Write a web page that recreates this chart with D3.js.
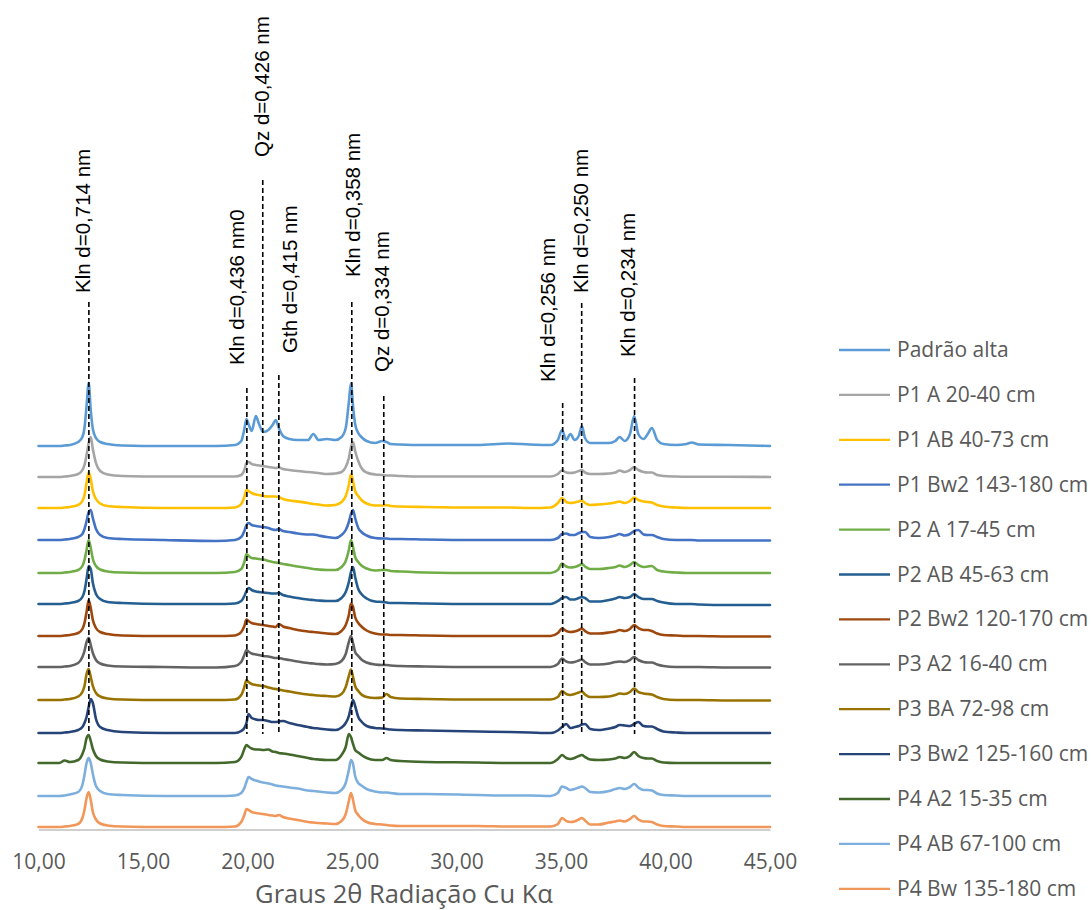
<!DOCTYPE html>
<html>
<head>
<meta charset="utf-8">
<script src="https://cdn.jsdelivr.net/npm/d3@7"></script>
<style>
  body { margin: 0; background: #fff; }
  svg { display: block; }
</style>
</head>
<body>
<svg id="chart" width="1091" height="910"></svg>
<script>
// 2θ sampling grid (degrees), shared by all diffractograms
const twoTheta = [
  10.0, 11.0, 11.25, 11.5, 11.9, 12.1, 12.2, 12.3, 12.4, 12.5, 12.6, 12.75, 12.95, 13.3,
  14.0, 16.0, 18.5, 19.4, 19.7, 19.85,
  19.95, 20.05, 20.2, 20.4, 20.55, 20.75, 21.0, 21.2, 21.35, 21.5, 21.7, 22.0,
  22.4, 22.9, 23.15, 23.4, 23.8, 24.2,
  24.5, 24.7, 24.85, 24.95, 25.05, 25.15, 25.3, 25.45, 25.7,
  26.1, 26.45, 26.65, 26.85, 27.3, 28.5, 31.0, 32.5, 33.5, 34.5,
  34.85, 35.05, 35.25, 35.45, 35.65, 35.85, 36.0, 36.15, 36.4, 36.8,
  37.3, 37.6, 37.8, 38.05, 38.3, 38.5, 38.7, 38.95, 39.15, 39.35, 39.6, 39.9,
  40.5, 41.0, 41.25, 41.6, 43.0, 45.0
];

const sampleNames = [
  "Padrão alta", "P1 A 20-40 cm", "P1 AB 40-73 cm", "P1 Bw2 143-180 cm",
  "P2 A 17-45 cm", "P2 AB 45-63 cm", "P2 Bw2 120-170 cm", "P3 A2 16-40 cm",
  "P3 BA 72-98 cm", "P3 Bw2 125-160 cm", "P4 A2 15-35 cm", "P4 AB 67-100 cm",
  "P4 Bw 135-180 cm"
];

// vertical offset of each pattern in the stack (intensity units)
const stackOffsets = [383, 352, 321, 289, 256, 225, 193, 162, 129, 96, 66, 33, 2];

// intensity above each pattern's own baseline (u.a.), one value per 2θ point
const padraoAlta = [
  0, 0, 0.5, 1, 4, 9, 18, 40, 63, 36, 17, 8, 4, 2,
  0.5, 0, 0, 1, 5, 17,
  27, 22, 15, 30, 22, 14, 16, 21, 26, 18, 10, 7,
  6, 6, 12, 6, 7, 6,
  9, 18, 44, 63, 40, 22, 13, 9, 5,
  3, 5, 4, 2, 1.5, 1, 1, 2.5, 1.5, 1,
  6, 16, 6, 12, 6, 10, 20, 8, 3, 3,
  3, 5, 9, 5, 12, 30, 12, 7, 12, 18, 6, 2,
  1, 2, 3.5, 1.5, 1, 0
];
const p1A = [
  0, 0, 0.5, 1, 3, 7, 12, 22, 34, 40, 28, 14, 6, 2.5,
  1, 0.5, 0.5, 0.5, 2, 7,
  14, 15, 13, 12, 11.5, 11, 10, 9.5, 9, 9.5, 8, 7,
  6, 5, 4.5, 4, 3, 3.5,
  5, 10, 19, 30, 35, 26, 16, 9, 4.5,
  2.5, 2, 1.5, 1.5, 1, 0.5, 0.5, 0.5, 0.5, 0.5,
  3, 6.5, 4.5, 4, 4.5, 6, 7, 4.5, 3, 3,
  3.5, 4.5, 6.5, 5, 7, 10, 7, 5, 4.5, 4.5, 2, 1,
  0.5, 0.3, 0.3, 0.3, 0.3, 0
];
const p1AB = [
  0, 0, 0.5, 1, 3, 7, 13, 25, 36, 29, 17, 9, 4.5, 2,
  1, 0, 0, 0.5, 4, 11,
  18, 17, 15, 13.5, 13, 12, 11.5, 11.5, 11.5, 11, 9, 7.5,
  6.5, 5, 4, 3.5, 2.5, 3,
  6, 12, 23, 34, 27, 17, 12, 8, 4.5,
  2.5, 2.5, 3, 2, 1.5, 1, 0.5, 0.5, 0, 0.5,
  5, 10, 6, 5, 5.5, 6.5, 7.5, 5, 3, 3.5,
  4.5, 5.5, 6.5, 5, 7, 10.5, 8, 6.5, 6, 5.5, 3, 1.5,
  0.5, 0, 0, 0, 0, 0
];
const p1Bw2 = [
  0, 0, 0.5, 1, 3, 6, 11, 19, 28, 30, 22, 11, 5, 2,
  1, 0, -1, 0, 3, 9,
  15, 17, 15, 14, 13.5, 13, 12, 10.5, 10, 11, 9, 8,
  6.5, 5.5, 5.5, 4.5, 3, 2,
  5, 10, 18, 26, 30, 22, 12, 8, 4.5,
  2, 1.5, 1.5, 1, 1, 0.5, 0, 0, 0, 0,
  2, 6, 6.5, 5, 5, 7, 8, 8, 3, 2,
  3, 4.5, 6, 4.5, 6, 9, 10, 5.5, 5, 5, 3, 1,
  0, 0, 0, -0.5, -0.5, -0.5
];
const p2A = [
  0, 0, 0.5, 1, 3, 7, 13, 23, 33, 25, 14, 7, 3.5, 1.5,
  0.5, 0, 0, 1, 4, 11,
  19, 17, 15, 14.5, 14, 13.5, 12, 11, 10.5, 10, 9, 8,
  6.5, 5, 4, 3.5, 3, 3,
  6, 12, 23, 33, 26, 16, 11, 7.5, 4.5,
  2.5, 3, 3, 2, 1.5, 0.5, 0, 0, 0, 0,
  3, 9.5, 6.5, 5.5, 6, 7.5, 9, 6.5, 4, 4,
  5, 6, 7.5, 6, 8, 11, 8, 6, 6.5, 7, 3, 1.5,
  0.5, 0, 0, 0, 0, 0
];
const p2AB = [
  0, 0, 0.5, 1, 3, 7, 13, 25, 38, 35, 21, 10, 5, 2,
  1, 0, 0, 0.5, 3, 8,
  13, 16, 14, 12.5, 12, 11.5, 11, 10.5, 10.5, 11, 9, 7.5,
  6, 4.5, 4, 3.5, 3, 3,
  6, 12, 22, 32, 37, 27, 15, 10, 5.5,
  2.5, 2, 1.5, 1, 1, 0.5, 0, 0, 0, 0,
  3, 6, 7, 4.5, 4.5, 6, 7, 6, 2.5, 2.5,
  4, 5.5, 7, 6, 7, 10, 7, 5, 5, 5, 3, 1.5,
  0, 0, 0, -0.5, -1, -1
];
const p2Bw2 = [
  0, 0, 0.5, 1, 3, 7, 13, 24, 36, 28, 16, 8, 4, 2,
  0.5, 0, 0, 0.5, 4, 10,
  16.5, 15, 13, 12, 11.5, 11, 10, 9.5, 9, 12, 9.5, 8,
  6, 4.5, 4, 3.5, 2.5, 2,
  5, 11, 21, 32.5, 29, 19, 13, 9.5, 5.5,
  2.5, 1.5, 1.5, 1, 1, 0.5, 0, 0, 0, 0,
  3, 7.5, 5, 4, 4.5, 6, 7.5, 5, 2.5, 2.5,
  3.5, 4.5, 6, 5, 7, 11, 8, 6, 6, 5, 2.5, 1,
  0.5, 0, 0, 0, -0.5, -0.5
];
const p3A2 = [
  0, 0, 0.5, 1, 4, 10, 16, 25, 29, 22, 14, 7, 3.5, 1.5,
  0.5, 0, -0.5, 1, 5, 12,
  17, 15.5, 13.5, 12.5, 12, 11, 10.5, 9.5, 9, 9, 8, 7,
  5.5, 4, 3.5, 3, 2.5, 3,
  6, 13, 25, 31, 24, 15, 11, 7.5, 4.5,
  2.5, 2, 2, 1.5, 1, 0.5, 0, 0, 0, 0,
  3, 8.5, 5.5, 4.5, 5, 6.5, 7.5, 5, 2.5, 2.5,
  3.5, 5, 5.5, 5, 7, 10, 7, 5, 4.5, 4.5, 2.5, 1,
  0, 0, 0, 0, -0.5, -0.5
];
const p3BA = [
  0, 0, 0.5, 1, 3.5, 8, 14, 26, 31, 23, 14, 7, 3.5, 1.5,
  0.5, 0, 0, 0.5, 5, 13,
  20, 18, 16, 15, 14.5, 14, 12.5, 11.5, 11, 10.5, 9.5, 8.5,
  7, 5.5, 5, 4.5, 4, 3.5,
  6, 13, 24, 30.5, 23, 14, 9, 5.5, 3,
  2, 2.5, 6, 3, 1.5, 1, 0.5, 0.5, 0.5, 0.5,
  3, 9, 6, 5, 6, 7.5, 8.5, 5.5, 3, 3,
  3.5, 5, 6.5, 6, 8, 11.5, 8, 6.5, 6, 5.5, 3, 1,
  0, 0, 0, 0, -0.5, -0.5
];
const p3Bw2 = [
  0, 0, 0.5, 1, 3, 6, 10, 16, 26, 34, 30, 14, 6, 3,
  1, 0, 0, 0, 2, 5,
  10, 19, 15, 13.5, 13, 13, 12, 11, 11, 11.5, 12, 10,
  8, 6, 5, 4.5, 3.5, 3,
  5.5, 10, 17, 26, 33, 27, 16, 11.5, 7,
  5, 4.5, 4, 3.5, 3, 2.5, 1.5, 1, 0.5, 0,
  2.5, 6, 9, 5, 6, 7, 8.5, 9, 4, 3,
  4.5, 6, 8, 7.5, 7, 9, 11, 7, 6.5, 6.5, 4, 1.5,
  0.5, 0, 0, 0, 0, 0
];
const p4A2 = [
  0, 0, 2.5, 1, 3, 9, 15, 25, 28, 22, 14, 7, 3.5, 1.5,
  0.5, 0, 0, 1, 6, 14,
  18, 16.5, 14.5, 13.5, 13.5, 13, 13.5, 11.5, 11, 10, 9.5, 8.5,
  7, 5, 4, 3.5, 3, 3,
  8, 16, 29, 26, 19, 13, 10.5, 8, 5,
  3, 3, 5, 3, 2, 1, 0.5, 0, 0, 0,
  4, 8, 5, 4, 5, 7, 8, 6, 3.5, 3,
  3.5, 4.5, 6, 5, 7, 11, 7, 5, 4.5, 4.5, 2, 0.5,
  0, 0, 0, 0, 0, 0
];
const p4AB = [
  0, 0, 0.5, 1.5, 4, 11, 21, 33, 38, 33, 22, 10, 5, 2,
  1, 0, 0, 0.5, 3, 8,
  14, 19, 17, 15.5, 14.5, 13.5, 12.5, 11.5, 10.5, 10, 9.5, 8.5,
  7.5, 5.5, 5, 4.5, 3.5, 3,
  6, 13, 26, 36, 32, 20, 13, 10.5, 7,
  4.5, 3.5, 3.5, 3, 2, 2, 1, 0.5, 0.5, 0,
  3, 9.5, 8, 6, 7, 8.5, 9.5, 8, 4, 3.5,
  5, 7, 8, 7, 9, 12, 8.5, 6, 6, 5.5, 2.5, 1,
  0.5, 0, 0, 0, 0, 0
];
const p4Bw = [
  0, 0, 0.5, 1, 3, 9, 17, 29, 35, 27, 15, 7.5, 3.5, 1.5,
  0.5, 0, 0, 0.5, 5, 12,
  18, 17, 15, 14, 13.5, 13, 12, 11.5, 11, 12, 10, 8.5,
  7, 5, 4.5, 4, 3.5, 3,
  6, 13, 26, 34, 27, 17, 12, 8.5, 5,
  3, 2.5, 2, 1.5, 1, 1, 1, 0.5, 0.5, 0.5,
  3, 9, 6, 5, 5.5, 7.5, 9, 6.5, 2.5, 2.5,
  4.5, 5.5, 6.5, 5.5, 8, 11, 7.5, 5.5, 5.5, 5, 2.5, 1,
  0.5, 0, 0, 0, 0, 0
];

const patterns = [padraoAlta, p1A, p1AB, p1Bw2, p2A, p2AB, p2Bw2,
                  p3A2, p3BA, p3Bw2, p4A2, p4AB, p4Bw];

const xTicks = [10, 15, 20, 25, 30, 35, 40, 45];

// reference reflections marked with dashed lines
const peakLabels = [
  "Kln d=0,714 nm", "Kln d=0,436 nm0", "Qz d=0,426 nm", "Gth d=0,415 nm",
  "Kln d=0,358 nm", "Qz d=0,334 nm", "Kln d=0,256 nm", "Kln d=0,250 nm",
  "Kln d=0,234 nm"
];
const peakTwoTheta = [12.41, 19.97, 20.73, 21.50, 24.99, 26.52, 35.08, 35.99, 38.52];

// ---- styling / layout ----
const colors = ["#5B9BD5", "#A5A5A5", "#FFC000", "#4472C4", "#70AD47", "#255E91",
                "#9E480E", "#636363", "#997300", "#264478", "#43682B", "#7CAFDD", "#F1975A"];
const labelShift  = [-6, -10, -1, 11, 1, -2, -15, -1, -7];
const labelBottom = [293, 365, 157, 353, 277, 372, 382, 293, 357];
const lineTop     = [302, 388, 180, 375, 302, 396, 403, 303, 378];
const lineBottom  = 734;

patterns.forEach((p, i) => {
  if (p.length !== twoTheta.length) throw new Error("length mismatch in series " + i + ": " + p.length);
});

const svg = d3.select("#chart");
const x = d3.scaleLinear().domain([10, 45]).range([38.5, 770]);
const y = d3.scaleLinear().domain([0, 424]).range([829, 405]);

// diffractograms
const line = d3.line()
  .x(d => x(d[0]))
  .y(d => y(d[1]))
  .curve(d3.curveMonotoneX);

const gTraces = svg.append("g");
patterns.forEach((vals, i) => {
  const pts = twoTheta.map((t, k) => [t, stackOffsets[i] + vals[k]]);
  gTraces.append("path")
    .attr("d", line(pts))
    .attr("fill", "none")
    .attr("stroke", colors[i])
    .attr("stroke-width", 2.6)
    .attr("stroke-linejoin", "round")
    .attr("stroke-linecap", "round");
});

// x axis
const axis = d3.axisBottom(x)
  .tickValues(xTicks)
  .tickSize(0)
  .tickSizeOuter(0)
  .tickFormat(d => d.toFixed(2).replace(".", ","));
const gAxis = svg.append("g")
  .attr("transform", "translate(0,829.5)")
  .call(axis);
gAxis.select(".domain").attr("stroke", "#BFBFBF").attr("stroke-width", 1.6);
gAxis.selectAll("text")
  .attr("y", 39.5)
  .attr("dy", 0)
  .attr("fill", "#595959")
  .style("font-family", "'Open Sans', sans-serif")
  .style("font-size", "21px");

svg.append("text")
  .attr("x", 404)
  .attr("y", 903)
  .attr("text-anchor", "middle")
  .attr("fill", "#595959")
  .style("font-family", "'Open Sans', sans-serif")
  .style("font-size", "25.5px")
  .text("Graus 2θ Radiação Cu Kα");

// dashed reflection markers and their labels
const gMarks = svg.append("g");
peakTwoTheta.forEach((t, i) => {
  const px = x(t);
  gMarks.append("line")
    .attr("x1", px).attr("x2", px)
    .attr("y1", lineTop[i]).attr("y2", lineBottom)
    .attr("stroke", "#000")
    .attr("stroke-width", 1.6)
    .attr("stroke-dasharray", "5,3");
  const tx = px + labelShift[i] + 7.5;
  gMarks.append("text")
    .attr("transform", `translate(${tx},${labelBottom[i]}) rotate(-90)`)
    .attr("fill", "#000")
    .style("font-family", "'Liberation Sans', Arial, sans-serif")
    .style("font-size", "20.5px")
    .text(peakLabels[i]);
});

// legend
const gLeg = svg.append("g");
sampleNames.forEach((name, i) => {
  const cy = 350 + i * 44.9;
  gLeg.append("line")
    .attr("x1", 839).attr("x2", 890)
    .attr("y1", cy).attr("y2", cy)
    .attr("stroke", colors[i])
    .attr("stroke-width", 2.3);
  gLeg.append("text")
    .attr("x", 897)
    .attr("y", cy + 7)
    .attr("fill", "#595959")
    .style("font-family", "'Open Sans', sans-serif")
    .style("font-size", "21px")
    .text(name);
});
</script>
</body>
</html>
